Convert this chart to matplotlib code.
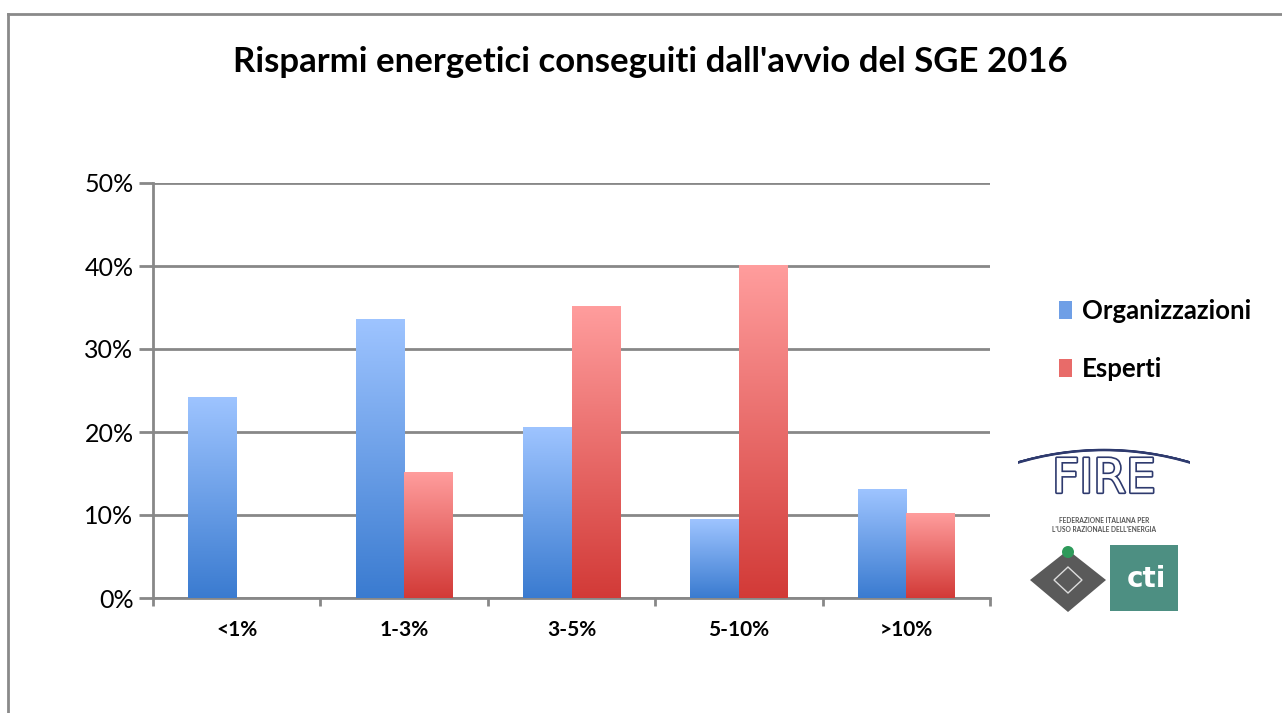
import numpy as np
import matplotlib
matplotlib.use("Agg")
import matplotlib.pyplot as plt
import matplotlib.patheffects as pe
from matplotlib.patches import Rectangle, Polygon, Circle, Arc, Patch
from matplotlib.colors import LinearSegmentedColormap
from matplotlib.ticker import FuncFormatter, FixedLocator

plt.rcParams['font.family'] = ['Lato', 'DejaVu Sans']

# ---------------- data ----------------
title = "Risparmi energetici conseguiti dall'avvio del SGE 2016"
categories = ["<1%", "1-3%", "3-5%", "5-10%", ">10%"]
series_names = ["Organizzazioni", "Esperti"]
organizzazioni = [24.2, 33.5, 20.6, 9.5, 13.1]
esperti = [0.0, 15.1, 35.1, 40.1, 10.2]
y_ticks = [0, 10, 20, 30, 40, 50]

# ---------------- style ----------------
blue_top, blue_bot = "#9ec4ff", "#3a7bd0"
red_top, red_bot = "#ff9d9d", "#d23a37"
grid_col = "#888888"

W, H = 1282, 713
fig = plt.figure(figsize=(W / 100, H / 100), dpi=100)
fig.patch.set_facecolor("white")

# outer frame (only top and left visible)
fig.add_artist(plt.Line2D([8 / W, 8 / W], [0, 1 - 14 / H], transform=fig.transFigure,
                          color="#8a8a8a", lw=2))
fig.add_artist(plt.Line2D([8 / W, 1], [1 - 14 / H, 1 - 14 / H], transform=fig.transFigure,
                          color="#8a8a8a", lw=2))

left, right, bottom, top = 153 / W, 990 / W, 1 - 598 / H, 1 - 183 / H
ax = fig.add_axes([left, bottom, right - left, top - bottom])

x = np.arange(len(categories))
bw = 0.29
bars_o = ax.bar(x - bw / 2, organizzazioni, width=bw, color="none", edgecolor="none",
                label=series_names[0], zorder=3)
bars_e = ax.bar(x + bw / 2, esperti, width=bw, color="none", edgecolor="none",
                label=series_names[1], zorder=3)

grad = np.linspace(1, 0, 256).reshape(-1, 1)
cmap_b = LinearSegmentedColormap.from_list("b", [blue_bot, blue_top])
cmap_r = LinearSegmentedColormap.from_list("r", [red_bot, red_top])


def fill_gradient(bars, cmap):
    for b in bars:
        h = b.get_height()
        if h <= 0:
            continue
        x0 = b.get_x()
        w = b.get_width()
        ax.imshow(grad, cmap=cmap, aspect="auto", extent=[x0, x0 + w, 0, h],
                  origin="upper", zorder=3, interpolation="bilinear")


fill_gradient(bars_o, cmap_b)
fill_gradient(bars_e, cmap_r)

ax.set_xlim(-0.5, len(categories) - 0.5)
ax.set_ylim(0, 50)
ax.set_yticks(y_ticks)
ax.yaxis.set_major_formatter(FuncFormatter(lambda v, p: f"{int(v)}%"))
ax.grid(axis="y", color=grid_col, lw=2, zorder=1)
ax.set_axisbelow(True)

ax.set_xticks(x)
ax.set_xticklabels(categories, fontsize=15, fontweight="bold")
ax.xaxis.set_minor_locator(FixedLocator(np.arange(-0.5, len(categories), 1.0)))
ax.tick_params(axis="x", which="major", length=0, pad=16)
ax.tick_params(axis="x", which="minor", length=6, width=2, color=grid_col)
ax.tick_params(axis="y", length=10, width=2, color=grid_col, labelsize=18, pad=4)

for s in ["top", "right"]:
    ax.spines[s].set_visible(False)
for s in ["left", "bottom"]:
    ax.spines[s].set_color(grid_col)
    ax.spines[s].set_linewidth(2)

# title
fig.text(650 / W, 1 - 62 / H, title, ha="center", va="center", fontsize=25,
         fontweight="bold", color="black")

# legend
handles = [Patch(facecolor="#6f9fe6", edgecolor="none"),
           Patch(facecolor="#e86b69", edgecolor="none")]
fig.legend(handles, series_names, loc="center left", bbox_to_anchor=(1036 / W, 1 - 340 / H),
           frameon=False, prop={"size": 18.5, "weight": "bold"}, handlelength=0.5,
           handleheight=0.7, handletextpad=0.4, labelspacing=1.3)

# logo approximation
lax = fig.add_axes([1018 / W, 1 - 614 / H, 172 / W, 172 / H])
lax.set_xlim(0, 172)
lax.set_ylim(172, 0)
lax.axis("off")
for i, r in enumerate([300, 305, 310, 315]):
    lax.add_patch(Arc((86, 8 + r), 2 * r, 2 * r, theta1=253, theta2=287,
                      color="#2e3a6e", lw=1.8 - 0.3 * i))
lax.text(86, 38, "FIRE", ha="center", va="center", fontsize=34, color="white",
         family="DejaVu Sans",
         path_effects=[pe.withStroke(linewidth=2.4, foreground="#2e3a6e")])
lax.text(86, 83, "FEDERAZIONE ITALIANA PER\nL'USO RAZIONALE DELL'ENERGIA", ha="center",
         va="center", fontsize=4.8, color="#555555", fontweight="bold", linespacing=1.3)
lax.add_patch(Polygon([[50, 108], [88, 138], [50, 170], [12, 138]], closed=True,
                      facecolor="#5a5a5a", edgecolor="none"))
lax.add_patch(Polygon([[50, 125], [64, 138], [50, 151], [36, 138]], closed=True,
                      facecolor="none", edgecolor="#dddddd", lw=1))
lax.add_patch(Circle((50, 110), 6, facecolor="#2e9a5a", edgecolor="none"))
lax.add_patch(Rectangle((92, 103), 68, 66, facecolor="#4d8f82", edgecolor="none"))
lax.text(128, 137, "cti", ha="center", va="center", fontsize=20, color="white",
         fontweight="bold", family="DejaVu Sans")

fig.savefig("out.png", dpi=100, facecolor="white")
